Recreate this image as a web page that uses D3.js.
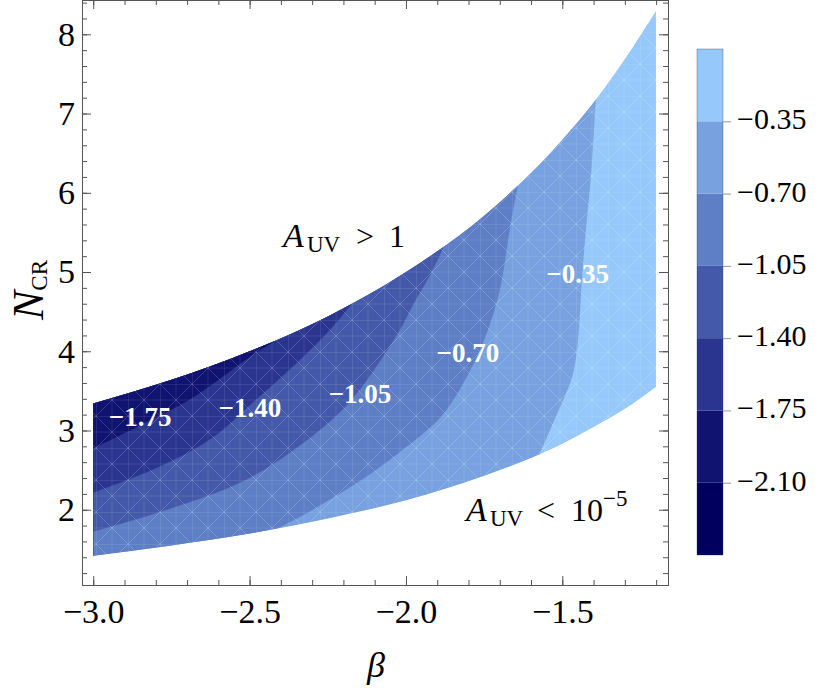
<!DOCTYPE html>
<html>
<head>
<meta charset="utf-8">
<script src="https://cdn.jsdelivr.net/npm/d3@7"></script>
<style>
body { margin: 0; background: #fff; }
</style>
</head>
<body>
<svg id="figure"></svg>
<script>
var fullWidth = 826, fullHeight = 693;
var plot = {left: 82, right: 668, top: 0, bottom: 585};
var serif = "Liberation Serif";

// edges of the allowed region: A_UV = 1 (upper) and A_UV = 1e-5 (lower)
var betaEdge = [-3.0, -2.75, -2.5, -2.25, -2.0, -1.75, -1.5, -1.4, -1.3, -1.2];
var upperN   = [3.34, 3.64, 4.00, 4.44, 5.00, 5.71, 6.67, 7.14, 7.69, 8.30];
var lowerN   = [1.42, 1.55, 1.70, 1.89, 2.12, 2.43, 2.83, 3.04, 3.27, 3.55];

// contour lines, [beta, N_CR] (upper end first)
var contourM175 = [[-2.419, 4.13], [-2.499, 3.93], [-2.585, 3.68], [-2.691, 3.39], [-2.847, 3.07], [-3.0, 2.775]];
var contourM140 = [[-2.169, 4.62], [-2.243, 4.27], [-2.339, 3.89], [-2.499, 3.32], [-2.627, 2.885], [-2.796, 2.53], [-3.0, 2.215]];
var contourM105 = [[-1.881, 5.30], [-1.923, 4.96], [-1.974, 4.61], [-2.019, 4.27], [-2.124, 3.64], [-2.211, 3.23], [-2.371, 2.72], [-2.531, 2.34], [-2.787, 1.97], [-3.0, 1.722]];
var contourM070 = [[-1.642, 6.10], [-1.668, 5.53], [-1.700, 4.77], [-1.744, 4.20], [-1.802, 3.70], [-1.891, 3.16], [-2.019, 2.73], [-2.156, 2.34], [-2.316, 1.96], [-2.428, 1.73]];
var contourM035 = [[-1.393, 7.19], [-1.406, 6.33], [-1.425, 5.50], [-1.436, 4.98], [-1.451, 4.08], [-1.468, 3.68], [-1.493, 3.42], [-1.518, 3.20], [-1.571, 2.716]];

var contourLevels = [-0.35, -0.70, -1.05, -1.40, -1.75];
var contourLines  = [contourM035, contourM070, contourM105, contourM140, contourM175];

// where the contour labels sit, [beta, N_CR]
var labelText = ["\u22121.75", "\u22121.40", "\u22121.05", "\u22120.70", "\u22120.35"];
var labelAt   = [[-2.850, 3.18], [-2.499, 3.29], [-2.147, 3.47], [-1.802, 3.98], [-1.451, 4.98]];

// colour bar
var cbLevels = [-2.45, -2.10, -1.75, -1.40, -1.05, -0.70, -0.35, 0];
var cbColors = ["#01005f", "#111370", "#2a3590", "#4459a9", "#5e7fc6", "#78a2df", "#96c8fb"];
var cbTicks  = [-2.10, -1.75, -1.40, -1.05, -0.70, -0.35];

var xMajor = [-3.0, -2.5, -2.0, -1.5];
var yMajor = [2, 3, 4, 5, 6, 7, 8];

var svg = d3.select('#figure')
    .attr("width", fullWidth)
    .attr("height", fullHeight)
    .attr("font-family", serif);

svg.append("rect").attr("width", fullWidth).attr("height", fullHeight).attr("fill", "#fff");

var xRange = d3.scaleLinear().domain([-3.036, -1.162]).range([plot.left, plot.right]);
var yRange = d3.scaleLinear().domain([1.05, 8.433]).range([plot.bottom, plot.top]);

var edgeData = betaEdge.map(function (b, i) { return {b: b, lo: lowerN[i], hi: upperN[i]}; });

var region = d3.area()
    .x(function (d) { return xRange(d.b); })
    .y0(function (d) { return yRange(d.lo); })
    .y1(function (d) { return yRange(d.hi); })
    .curve(d3.curveMonotoneX)(edgeData);

var defs = svg.append("defs");
defs.append("clipPath").attr("id", "regionClip")
    .append("path").attr("d", region);

// faint white mesh, like the triangulation seams of the original rendering
var mesh = defs.append("pattern").attr("id", "mesh")
    .attr("patternUnits", "userSpaceOnUse")
    .attr("width", 32).attr("height", 32);
[[0, 0, 32, 0], [0, 0, 0, 32], [0, 0, 32, 32], [32, 0, 0, 32], [16, 0, 16, 32], [0, 16, 32, 16]].forEach(function (l, i) {
    mesh.append("line")
        .attr("x1", l[0]).attr("y1", l[1]).attr("x2", l[2]).attr("y2", l[3])
        .attr("stroke", "#fff")
        .attr("stroke-opacity", i < 4 ? 0.22 : 0.12)
        .attr("stroke-width", 0.8);
});

var g = svg.append("g").attr("clip-path", "url(#regionClip)");

// everything above -0.35 first, then each "value below level" piece on top
g.append("path").attr("d", region).attr("fill", cbColors[6]);

var contourLine = d3.line()
    .x(function (d) { return xRange(d[0]); })
    .y(function (d) { return yRange(d[1]); })
    .curve(d3.curveCatmullRom.alpha(0.5));

contourLines.forEach(function (pts, i) {
    var first = pts[0], last = pts[pts.length - 1];
    var d = "M" + xRange(first[0]) + "," + yRange(14)
        + "L" + contourLine(pts).slice(1)
        + "L" + xRange(last[0]) + "," + yRange(0)
        + "L" + xRange(-4) + "," + yRange(0)
        + "L" + xRange(-4) + "," + yRange(14) + "Z";
    g.append("path").attr("d", d).attr("fill", cbColors[5 - i]);
});

g.append("rect")
    .attr("x", plot.left).attr("y", plot.top)
    .attr("width", plot.right - plot.left).attr("height", plot.bottom - plot.top)
    .attr("fill", "url(#mesh)");

// axes, ticks pointing inwards on all four sides
var tickColor = "#555";
var xMinor = d3.range(-3.0, -1.15, 0.1);
var yMinor = d3.range(1.2, 8.41, 0.2);

function styleAxis(sel) {
    sel.attr("font-family", serif);
    sel.selectAll("path").attr("stroke", tickColor);
    sel.selectAll("line").attr("stroke", tickColor);
}

var axes = [
    svg.append("g").attr("transform", "translate(0," + plot.bottom + ")")
        .call(d3.axisBottom(xRange).tickValues(xMinor).tickSize(-5).tickFormat("")),
    svg.append("g").attr("transform", "translate(0," + plot.top + ")")
        .call(d3.axisTop(xRange).tickValues(xMinor).tickSize(-5).tickFormat("")),
    svg.append("g").attr("transform", "translate(" + plot.left + ",0)")
        .call(d3.axisLeft(yRange).tickValues(yMinor).tickSize(-5).tickFormat("")),
    svg.append("g").attr("transform", "translate(" + plot.right + ",0)")
        .call(d3.axisRight(yRange).tickValues(yMinor).tickSize(-5).tickFormat(""))
];

var xAxis = svg.append("g").attr("transform", "translate(0," + plot.bottom + ")")
    .call(d3.axisBottom(xRange).tickValues(xMajor).tickFormat(d3.format(".1f"))
        .tickSizeInner(-9).tickSizeOuter(0).tickPadding(14));
var xTop = svg.append("g").attr("transform", "translate(0," + plot.top + ")")
    .call(d3.axisTop(xRange).tickValues(xMajor).tickFormat("").tickSizeInner(-9).tickSizeOuter(0));
var yAxis = svg.append("g").attr("transform", "translate(" + plot.left + ",0)")
    .call(d3.axisLeft(yRange).tickValues(yMajor).tickFormat(d3.format("d"))
        .tickSizeInner(-9).tickSizeOuter(0).tickPadding(7));
var yRight = svg.append("g").attr("transform", "translate(" + plot.right + ",0)")
    .call(d3.axisRight(yRange).tickValues(yMajor).tickFormat("").tickSizeInner(-9).tickSizeOuter(0));

axes.concat([xAxis, xTop, yAxis, yRight]).forEach(styleAxis);

[xAxis, yAxis].forEach(function (a) {
    a.selectAll("text").attr("fill", "#000")
        .style("font-family", serif)
        .style("font-size", "34px");
});

// contour labels
labelText.forEach(function (t, i) {
    svg.append("text")
        .attr("x", xRange(labelAt[i][0]))
        .attr("y", yRange(labelAt[i][1]))
        .attr("dy", "0.35em")
        .attr("text-anchor", "middle")
        .attr("fill", "#fff")
        .style("font-family", serif)
        .style("font-weight", "bold")
        .style("font-size", "27px")
        .text(t);
});

// region annotations
var ann1 = svg.append("text").attr("y", 247).style("font-family", serif).style("font-size", "32px");
ann1.append("tspan").attr("x", 283).style("font-style", "italic").style("font-size", "34px").text("A");
ann1.append("tspan").attr("x", 307).attr("dy", 5).style("font-size", "23px").text("UV");
ann1.append("tspan").attr("x", 356).attr("dy", -5).text(">");
ann1.append("tspan").attr("x", 389).text("1");

var ann2 = svg.append("text").attr("y", 521).style("font-family", serif).style("font-size", "32px");
ann2.append("tspan").attr("x", 466).style("font-style", "italic").style("font-size", "34px").text("A");
ann2.append("tspan").attr("x", 490).attr("dy", 5).style("font-size", "23px").text("UV");
ann2.append("tspan").attr("x", 537).attr("dy", -5).text("<");
ann2.append("tspan").attr("x", 571).text("10");
ann2.append("tspan").attr("dy", -15).style("font-size", "23px").text("\u22125");

// axis titles
svg.append("text")
    .attr("x", 376).attr("y", 677)
    .attr("text-anchor", "middle")
    .style("font-family", serif)
    .style("font-style", "italic").style("font-size", "36px")
    .text("\u03b2");

var yTitle = svg.append("text")
    .attr("transform", "translate(43,290) rotate(-90)")
    .attr("text-anchor", "middle")
    .style("font-family", serif)
    .style("font-size", "44px");
yTitle.append("tspan").style("font-style", "italic").text("N");
yTitle.append("tspan").attr("dy", 4).style("font-size", "23px").text("CR");

// colour bar
var cbX = 697, cbW = 26;
var cbRange = d3.scaleLinear().domain([cbLevels[0], cbLevels[cbLevels.length - 1]]).range([555, 49]);

cbColors.forEach(function (c, i) {
    svg.append("rect")
        .attr("x", cbX).attr("width", cbW)
        .attr("y", cbRange(cbLevels[i + 1]))
        .attr("height", cbRange(cbLevels[i]) - cbRange(cbLevels[i + 1]))
        .attr("fill", c);
});
svg.append("rect").attr("x", cbX).attr("y", cbRange(0)).attr("width", cbW)
    .attr("height", cbRange(cbLevels[0]) - cbRange(0))
    .attr("fill", "none").attr("stroke", "rgba(40,60,110,0.35)").attr("stroke-width", 1);

var cbAxis = svg.append("g").attr("transform", "translate(" + (cbX + cbW) + ",0)")
    .call(d3.axisRight(cbRange).tickValues(cbTicks).tickFormat(d3.format(".2f"))
        .tickSizeInner(8).tickSizeOuter(0).tickPadding(6));
cbAxis.attr("font-family", serif);
cbAxis.select(".domain").remove();
cbAxis.selectAll("line").attr("stroke", "#999");
cbAxis.selectAll("text").attr("fill", "#000").attr("dy", "0.25em")
    .style("font-family", serif)
    .style("font-size", "30px");
</script>
</body>
</html>
